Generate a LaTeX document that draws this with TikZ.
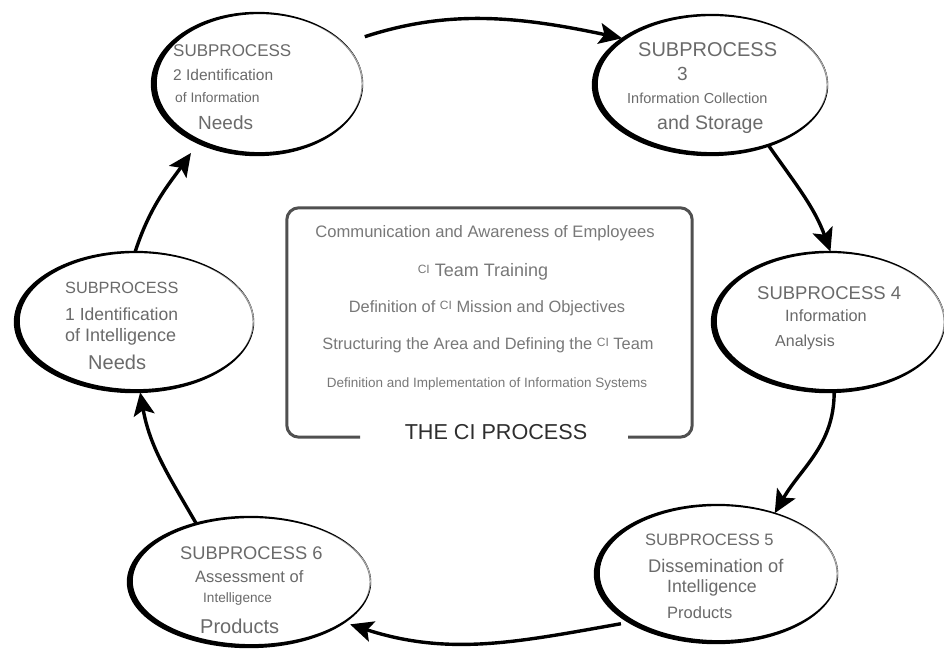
\documentclass[tikz,border=0pt]{standalone}
\usepackage{fontspec}
\setmainfont{Liberation Sans}
\usetikzlibrary{shapes.geometric,arrows.meta}
\definecolor{sptext}{HTML}{6A6A6A}
\definecolor{boxtext}{HTML}{787878}
\definecolor{boxline}{HTML}{505050}
\definecolor{titletext}{HTML}{2E2E2E}
\newcommand{\fsz}[1]{\fontsize{#1}{#1}\selectfont}
\newcommand{\ci}{\raisebox{3pt}{\fsz{12}CI}}
\newcommand{\brush}[3]{\fill[black, even odd rule] (#1.center) ellipse [x radius=#2pt+1.2pt, y radius=#3pt+1.2pt] ([shift={(2.8pt,0.9pt)}]#1.center) ellipse [x radius=#2pt-2pt, y radius=#3pt-2pt];}
\tikzset{
  spell/.style={ellipse, draw=black!45, line width=0.9pt, inner sep=0pt},
  ln/.style={inner sep=0pt, anchor=west, text=sptext},
  bx/.style={inner sep=0pt, text=boxtext},
  tipstyle/.tip={Stealth[length=23pt,width=21pt,inset=5pt]},
  arr/.style={line width=3.4pt, -tipstyle},
}
\begin{document}
\begin{tikzpicture}[x=1pt,y=-1pt]
\useasboundingbox (0,0) rectangle (944,650);
\fill[white] (0,0) rectangle (944,650);

% ellipses
\node[spell, minimum width=210pt, minimum height=142pt] (sp2) at (257,84) {};
\node[spell, minimum width=234pt, minimum height=140pt] (sp3) at (710,85) {};
\node[spell, minimum width=238pt, minimum height=140pt] (sp1) at (134,322) {};
\node[spell, minimum width=232pt, minimum height=140pt] (sp4) at (828,322) {};
\node[spell, minimum width=242pt, minimum height=130pt] (sp6) at (249,582) {};
\node[spell, minimum width=242pt, minimum height=138pt] (sp5) at (716,574) {};
\brush{sp2}{105}{71}
\brush{sp3}{117}{70}
\brush{sp1}{119}{70}
\brush{sp4}{116}{70}
\brush{sp6}{121}{65}
\brush{sp5}{121}{69}

% texts SP2
\node[ln] (t2a) at (173,51) {\fsz{17}SUBPROCESS};
\node[ln] (t2b) at (173,75) {\fsz{15.5}2 Identification};
\node[ln] (t2c) at (175,98) {\fsz{13.8}of Information};
\node[ln] (t2d) at (198,123) {\fsz{19}Needs};
% SP3
\node[ln] (t3a) at (638,50) {\fsz{20}SUBPROCESS};
\node[ln] (t3b) at (677,74) {\fsz{19}3};
\node[ln] (t3c) at (627,98) {\fsz{14.5}Information Collection};
\node[ln] (t3d) at (657,124) {\fsz{19.5}and Storage};
% SP1
\node[ln] (t1a) at (65,288) {\fsz{16.3}SUBPROCESS};
\node[ln] (t1b) at (65,314) {\fsz{17.5}1 Identification};
\node[ln] (t1c) at (65,337) {\fsz{18}of Intelligence};
\node[ln] (t1d) at (88,362) {\fsz{20}Needs};
% SP4
\node[ln] (t4a) at (757,293) {\fsz{18.5}SUBPROCESS 4};
\node[ln] (t4b) at (785,316) {\fsz{16.3}Information};
\node[ln] (t4c) at (775,342) {\fsz{16}Analysis};
% SP6
\node[ln] (t6a) at (180,553) {\fsz{18.3}SUBPROCESS 6};
\node[ln] (t6b) at (195,577) {\fsz{16.5}Assessment of};
\node[ln] (t6c) at (203,599) {\fsz{13.6}Intelligence};
\node[ln] (t6d) at (200,626) {\fsz{20}Products};
% SP5
\node[ln] (t5a) at (645,540) {\fsz{16.5}SUBPROCESS 5};
\node[ln] (t5b) at (648,566) {\fsz{18.3}Dissemination of};
\node[ln] (t5c) at (667,588) {\fsz{17.7}Intelligence};
\node[ln] (t5d) at (667,613) {\fsz{16.5}Products};

% central box
\node[minimum width=405pt, minimum height=229pt, inner sep=0pt] (box) at (489.5,322.5) {};
\coordinate (gl) at (360,437);
\coordinate (gr) at (628,437);
\draw[boxline, line width=3pt, rounded corners=12pt] (gl) -- (box.south west) -- (box.north west) -- (box.north east) -- (box.south east) -- (gr);
\node[bx] (b1) at (485,233) {\fsz{16.6}Communication and Awareness of Employees};
\node[bx] (b2) at (483,272) {\fsz{18}\ci\ Team Training};
\node[bx] (b3) at (487,308) {\fsz{16.4}Definition of \ci\ Mission and Objectives};
\node[bx] (b4) at (488,345) {\fsz{16.4}Structuring the Area and Defining the \ci\ Team};
\node[bx] (b5) at (487,384) {\fsz{13.5}Definition and Implementation of Information Systems};
\node[inner sep=0pt, text=titletext] (title) at (496,432) {\fsz{21.6}THE CI PROCESS};

% arrows
\draw[arr, shorten <=22pt] (sp2.25) to[out=18,in=168] (sp3.152);
\draw[arr] (sp3.-46) to[out=-55,in=110] (sp4.88);
\draw[arr] (sp4.-85) to[out=-90,in=60] (sp5.46);
\draw[arr, shorten <=8pt, shorten >=6pt] (sp5.209) to[out=190,in=-18] (sp6.-23);
\draw[arr] (sp6.132) to[out=120,in=-80] (sp1.-85);
\draw[arr, shorten >=12pt] (sp1.89) to[out=72,in=235] (sp2.225);
\end{tikzpicture}
\end{document}
